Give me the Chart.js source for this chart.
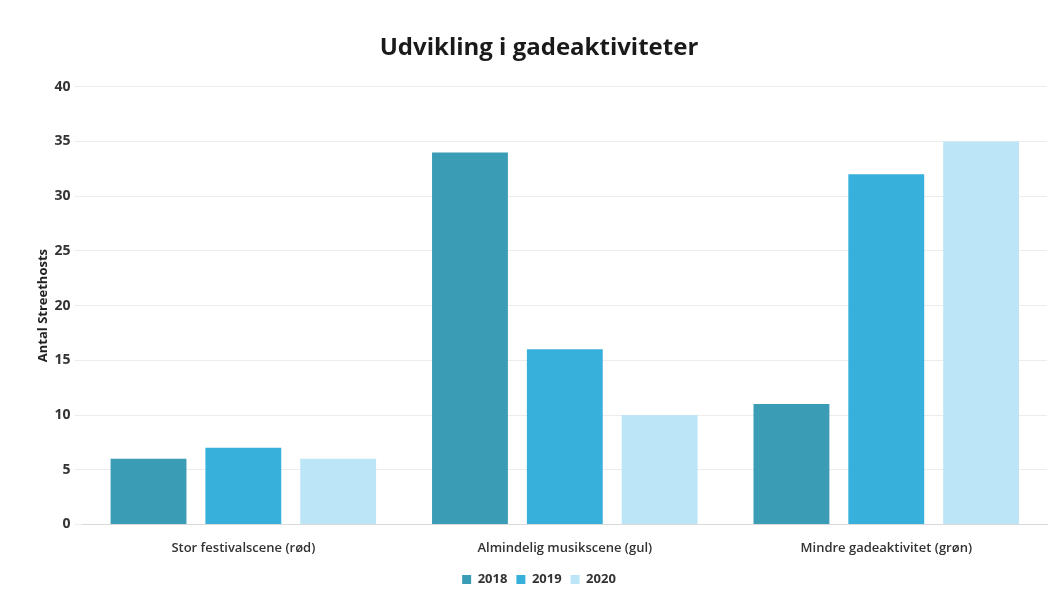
<!DOCTYPE html>
<html>
<head>
<meta charset="utf-8">
<script src="https://cdn.jsdelivr.net/npm/chart.js@4/dist/chart.umd.min.js"></script>
<style>
  html, body { margin: 0; padding: 0; background: #fff; }
  #wrap { position: relative; width: 1052px; height: 596px; }
</style>
</head>
<body>
<div id="wrap"><canvas id="gade"></canvas></div>
<script>
var kategorier = ["Stor festivalscene (rød)", "Almindelig musikscene (gul)", "Mindre gadeaktivitet (grøn)"];
var aar2018 = [6, 34, 11];
var aar2019 = [7, 16, 32];
var aar2020 = [6, 10, 35];

var ctx = document.getElementById('gade').getContext('2d');
var chart = new Chart(ctx, {
    type: 'bar',
    data: {
        labels: kategorier,
        datasets: [
            { label: "2018", backgroundColor: '#3b9cb5', data: aar2018 },
            { label: "2019", backgroundColor: '#37b0db', data: aar2019 },
            { label: "2020", backgroundColor: '#bce5f7', data: aar2020 }
        ]
    },
    options: {
        responsive: true,
        maintainAspectRatio: false,
        animation: false,
        layout: { padding: { left: 31, right: 5, top: 10, bottom: 0 } },
        datasets: { bar: { categoryPercentage: 0.885, barPercentage: 0.8 } },
        plugins: {
            title: {
                display: true,
                text: 'Udvikling i gadeaktiviteter',
                color: '#1a1a1a',
                font: { family: 'Open Sans', size: 24, weight: 'bold' },
                padding: { top: 24, bottom: 24 }
            },
            legend: {
                position: 'bottom',
                labels: {
                    boxWidth: 9, boxHeight: 9, padding: 9,
                    color: '#333',
                    font: { family: 'Open Sans', size: 13, weight: 'bold' }
                }
            },
            tooltip: { enabled: false }
        },
        scales: {
            x: {
                grid: { display: false },
                border: { color: '#d9d9d9' },
                ticks: { color: '#333', font: { family: 'Open Sans', size: 13, weight: '600' }, padding: 8 }
            },
            y: {
                min: 0, max: 40,
                ticks: { stepSize: 5, color: '#333', padding: 4, font: { family: 'Open Sans', size: 14, weight: 'bold' } },
                grid: { color: '#ececec' },
                border: { display: false },
                title: {
                    display: true,
                    text: 'Antal Streethosts',
                    color: '#222',
                    padding: { top: 4, bottom: 0 },
                    font: { family: 'Open Sans', size: 13, weight: 'bold' }
                }
            }
        }
    }
});
</script>
</body>
</html>
